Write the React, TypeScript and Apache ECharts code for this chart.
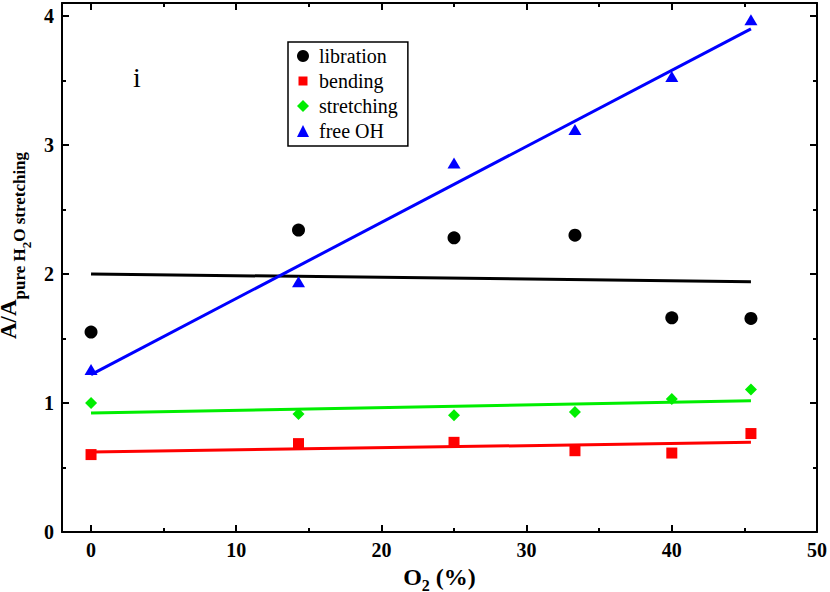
import React, { useEffect, useRef } from 'react';
import * as echarts from 'echarts';

// O2 concentration (%) of each measured sample
const xValues = [0, 14.29, 25, 33.33, 40, 45.45];
// Integrated band areas relative to pure H2O stretching
const libration = [1.55, 2.34, 2.28, 2.3, 1.66, 1.655];
const bending = [0.6, 0.685, 0.695, 0.63, 0.612, 0.763];
const stretching = [1.0, 0.915, 0.905, 0.93, 1.03, 1.105];
const freeOH = [1.26, 1.94, 2.86, 3.12, 3.53, 3.97];

// Linear fits (end points)
const fitX = [0, 45.45];
const fitLibration = [2.0, 1.94];
const fitBending = [0.62, 0.695];
const fitStretching = [0.922, 1.017];
const fitFreeOH = [1.22, 3.9];

// Ticks
const xMajorTicks = [0, 10, 20, 30, 40, 50];
const xMinorTicks = [5, 15, 25, 35, 45];
const yMajorTicks = [0, 1, 2, 3, 4];
const yMinorTicks = [0.5, 1.5, 2.5, 3.5];

const seriesNames = ['libration', 'bending', 'stretching', 'free OH'];
const seriesColors = ['#000000', '#ff0000', '#00ee00', '#0000ff'];
const panelLabel = 'i';

const X_MIN = -2;
const X_MAX = 50;
const Y_MIN = 0;
const Y_MAX = 4.1;

const FONT = "'Liberation Serif', 'Times New Roman', serif";

export default function App() {
  const ref = useRef<HTMLDivElement>(null);

  useEffect(() => {
    const chart = echarts.init(ref.current!, null, { renderer: 'svg' });
    const pts = (ys: number[]) => xValues.map((x, i) => [x, ys[i]]);
    const fit = (ys: number[]) => fitX.map((x, i) => [x, ys[i]]);

    const lineStyle = { color: '#000', width: 2 };
    const tickStyle = { color: '#000', width: 2 };
    const MAJOR = 7;
    const MINOR = 4;

    const baseX = { type: 'value', min: X_MIN, max: X_MAX, splitLine: { show: false } };
    const baseY = { type: 'value', min: Y_MIN, max: Y_MAX, splitLine: { show: false } };

    const labelStyle = {
      color: '#000',
      fontFamily: FONT,
      fontWeight: 'bold',
      fontSize: 20,
    };

    const symbols = ['circle', 'rect', 'diamond', 'triangle'];
    const legendIcons = [
      'circle',
      'path://M0,0M1.5,1.5L10.5,1.5L10.5,10.5L1.5,10.5ZM12,12',
      'diamond',
      'triangle',
    ];
    const sizes: any[] = [13, 11, 12, [13, 11]];
    const dataSets = [libration, bending, stretching, freeOH];
    const fits = [fitLibration, fitBending, fitStretching, fitFreeOH];

    const lineSeries = fits.map((f, i) => ({
      type: 'line',
      name: seriesNames[i] + ' fit',
      data: fit(f),
      showSymbol: false,
      symbol: 'none',
      silent: true,
      lineStyle: { color: seriesColors[i], width: 3 },
      z: 2,
    }));

    const scatterSeries = dataSets.map((d, i) => ({
      type: 'scatter',
      name: seriesNames[i],
      data: pts(d),
      symbol: symbols[i],
      symbolSize: sizes[i],
      itemStyle: { color: seriesColors[i], opacity: 1 },
      z: 3,
    }));

    const tickAxis = (base: any, position: string, values: number[], len: number, showLine: boolean) => ({
      ...base,
      position,
      axisLine: { show: showLine, onZero: false, lineStyle },
      axisTick: { show: true, inside: true, length: len, lineStyle: tickStyle, customValues: values },
      axisLabel: { show: false },
    });

    chart.setOption({
      animation: false,
      backgroundColor: '#fff',
      grid: {
        left: 62,
        right: 13,
        top: 3,
        bottom: 60,
        containLabel: false,
        outerBoundsMode: 'none',
      },
      legend: {
        data: seriesNames.map((n, i) => ({ name: n, icon: legendIcons[i] })),
        orient: 'vertical',
        left: 288,
        top: 42,
        padding: [4, 10, 5, 9],
        itemGap: 5,
        itemWidth: 12,
        itemHeight: 12,
        borderColor: '#000',
        borderWidth: 1.5,
        selectedMode: false,
        textStyle: {
          fontFamily: FONT,
          fontSize: 20,
          color: '#000',
          lineHeight: 20,
          padding: [0, 0, 0, 5],
        },
      },
      graphic: [
        {
          type: 'text',
          x: 137,
          y: 77,
          style: {
            text: panelLabel,
            fill: '#000',
            font: `28px ${FONT}`,
            align: 'center',
            verticalAlign: 'middle',
            textAlign: 'center',
            textVerticalAlign: 'middle',
          },
        },
      ],
      xAxis: [
        {
          ...baseX,
          position: 'bottom',
          axisLine: { show: true, onZero: false, lineStyle },
          axisTick: { show: true, inside: true, length: MAJOR, lineStyle: tickStyle, customValues: xMajorTicks },
          axisLabel: { show: true, customValues: xMajorTicks, margin: 8, ...labelStyle },
          name: '{a|O}{s|2}{a| (%)}',
          nameLocation: 'middle',
          nameGap: 24,
          nameTextStyle: {
            rich: {
              a: { fontFamily: FONT, fontWeight: 'bold', fontSize: 24, color: '#000' },
              s: { fontFamily: FONT, fontWeight: 'bold', fontSize: 16, color: '#000', padding: [18, 0, 0, 0] },
            },
          },
        },
        tickAxis(baseX, 'bottom', xMinorTicks, MINOR, false),
        tickAxis(baseX, 'top', xMajorTicks, MAJOR, true),
        tickAxis(baseX, 'top', xMinorTicks, MINOR, false),
      ],
      yAxis: [
        {
          ...baseY,
          position: 'left',
          axisLine: { show: true, onZero: false, lineStyle },
          axisTick: { show: true, inside: true, length: MAJOR, lineStyle: tickStyle, customValues: yMajorTicks },
          axisLabel: { show: true, customValues: yMajorTicks, margin: 8, ...labelStyle },
          name: '{a|A/A}{b|pure H}{c|2}{b|O stretching}',
          nameLocation: 'middle',
          nameRotate: 90,
          nameGap: 25,
          nameTextStyle: {
            padding: [0, 0, 0, 44],
            rich: {
              a: { fontFamily: FONT, fontWeight: 'bold', fontSize: 23, color: '#000' },
              b: { fontFamily: FONT, fontWeight: 'bold', fontSize: 17, color: '#000', padding: [21, 0, 0, 0] },
              c: { fontFamily: FONT, fontWeight: 'bold', fontSize: 13, color: '#000', padding: [36, 0, 0, 0] },
            },
          },
        },
        tickAxis(baseY, 'left', yMinorTicks, MINOR, false),
        tickAxis(baseY, 'right', yMajorTicks, MAJOR, true),
        tickAxis(baseY, 'right', yMinorTicks, MINOR, false),
      ],
      series: [...lineSeries, ...scatterSeries],
    });

    return () => chart.dispose();
  }, []);

  return (
    <div
      ref={ref}
      style={{ position: 'absolute', left: 0, top: 0, width: 830, height: 592 }}
    />
  );
}
